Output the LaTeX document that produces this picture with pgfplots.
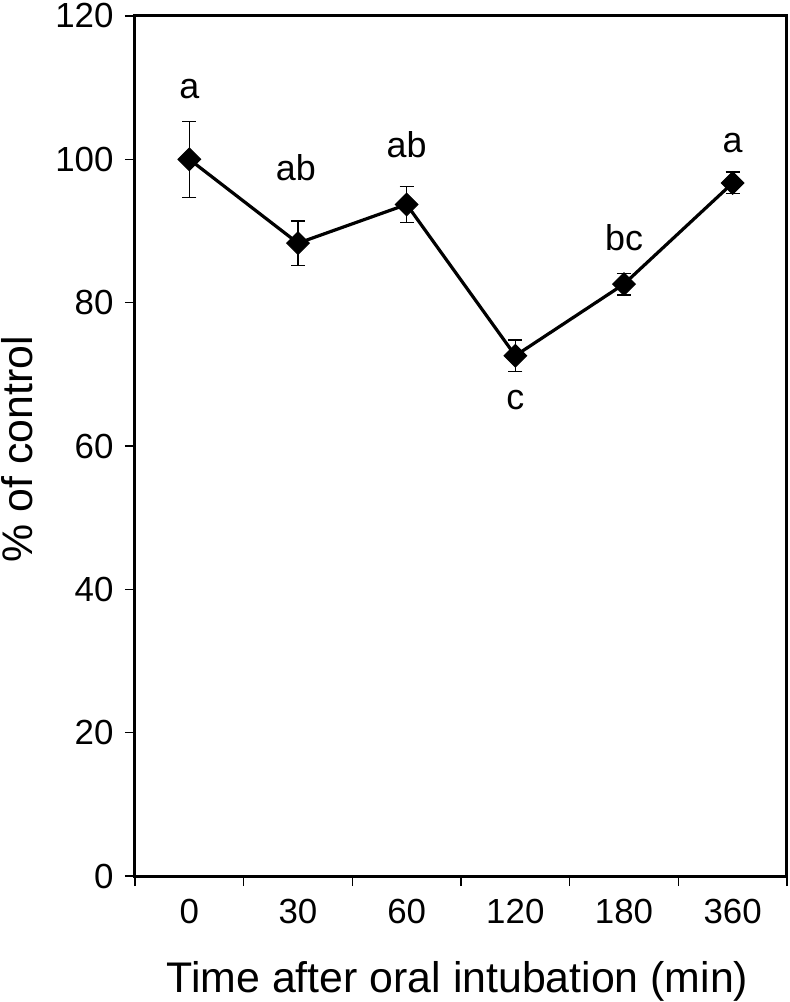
\documentclass[border=0pt]{standalone}
\usepackage{fontspec}
\setmainfont{Liberation Sans}
\usepackage{pgfplots}
\pgfplotsset{compat=1.18}
\begin{document}
\begin{tikzpicture}
\begin{axis}[
  scale only axis, width=652bp, height=860bp,
  xmin=-0.5, xmax=5.5, ymin=0, ymax=120,
  axis line style={line width=3bp},
  xtick={-0.5,0.5,...,5.5}, xticklabels={,,,,,,,},
  extra x ticks={0,1,2,3,4,5},
  extra x tick labels={0,30,60,120,180,360},
  extra x tick style={major tick length=0pt, xticklabel style={yshift=-20bp}},
  ytick={0,20,...,120},
  xtick pos=bottom, ytick pos=left,
  tick align=outside,
  major tick length=10bp,
  tick style={line width=1.5bp, black},
  yticklabel style={xshift=-8bp},
  /pgf/number format/assume math mode=true,
  ticklabel style={font=\fontsize{35}{42}\selectfont},
  xlabel={Time after oral intubation (min)},
  ylabel={\% of control},
  label style={font=\fontsize{43}{50}\selectfont},
  xlabel style={at={(rel axis cs:0.4946,-0.136)}, anchor=base},
  ylabel style={at={(rel axis cs:-0.1570,0.4965)}, anchor=base},
  clip=false,
]
\addplot[line width=3.2bp, black, mark=square*, mark size=8bp,
  mark options={rotate=45, solid, fill=black, line width=1bp},
  error bars/.cd, y dir=both, y explicit,
  error bar style={line width=1.5bp, black},
  error mark options={rotate=90, line width=1.5bp, mark size=7bp, black}]
coordinates {(0,100) +- (0,5.3) (1,88.3) +- (0,3.1) (2,93.7) +- (0,2.5)
  (3,72.6) +- (0,2.2) (4,82.6) +- (0,1.5) (5,96.7) +- (0,1.5)};
\begin{scope}[every node/.style={anchor=base, font=\fontsize{36}{40}\selectfont}]
\node at (axis cs:0,108.5) {a};
\node at (axis cs:0.98,97.1) {ab};
\node at (axis cs:2,100.2) {ab};
\node at (axis cs:3,65.1) {c};
\node at (axis cs:4,87.3) {bc};
\node at (axis cs:5,100.9) {a};
\end{scope}
\coordinate (bl) at (rel axis cs:0,0);
\coordinate (tr) at (rel axis cs:1,1);
\end{axis}
\pgfresetboundingbox
\path[use as bounding box] ([shift={(-135bp,-126bp)}]bl) rectangle ([shift={(3bp,16bp)}]tr);
\end{tikzpicture}
\end{document}
